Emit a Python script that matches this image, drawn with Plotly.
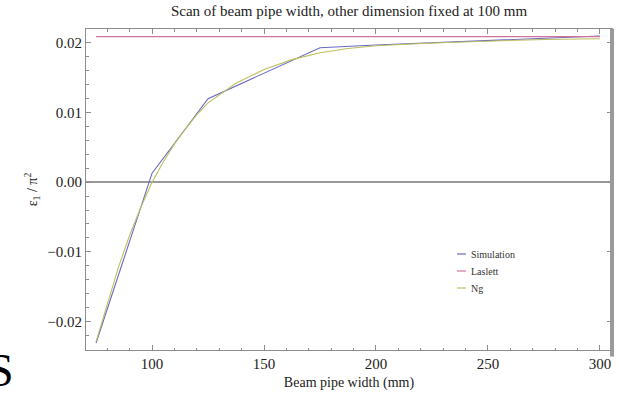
import plotly.graph_objects as go

# Beam pipe width scan (mm) and first-order coefficient epsilon_1 / pi^2
sim_width = [75, 100, 125, 150, 175, 200, 250, 300]
sim_eps = [-0.0231, 0.0013, 0.0120, 0.0157, 0.0193, 0.0197, 0.0203, 0.0210]

laslett_width = [75, 300]
laslett_eps = [0.0209, 0.0209]

ng_width = [75, 80, 85, 90, 95, 100, 105, 110, 115, 120, 125, 137.5, 150,
            162.5, 175, 187.5, 200, 225, 250, 275, 300]
ng_eps = [-0.0229, -0.0174, -0.0122, -0.0076, -0.0036, 0.0000, 0.0029,
          0.0055, 0.0077, 0.0097, 0.0114, 0.0142, 0.0162, 0.0176, 0.0186,
          0.0192, 0.0196, 0.0200, 0.0203, 0.0205, 0.0206]

series_names = ["Simulation", "Laslett", "Ng"]
series_colors = ["rgb(105,105,195)", "rgb(205,115,155)", "rgb(190,190,95)"]

x_ticks = [100, 150, 200, 250, 300]
y_ticks = [-0.02, -0.01, 0.0, 0.01, 0.02]
y_tick_text = ["\u22120.02", "\u22120.01", "0.00", "0.01", "0.02"]

SERIF = "Liberation Serif, Times New Roman, serif"
W, H = 619, 394
L, R, T, B = 86, 7, 29, 44
plot_w, plot_h = W - L - R, H - T - B

fig = go.Figure()
data = [(sim_width, sim_eps), (laslett_width, laslett_eps), (ng_width, ng_eps)]
for (xs, ys), name, color in zip(data, series_names, series_colors):
    fig.add_trace(go.Scatter(x=xs, y=ys, mode="lines", name=name,
                             line=dict(color=color, width=1.1),
                             showlegend=False))

# Small framed-style legend: short line sample + label
leg_x0, leg_y0, leg_dy = 457, 254, 17
for i, (name, color) in enumerate(zip(series_names, series_colors)):
    py = leg_y0 + i * leg_dy
    yp = (H - B - py) / plot_h
    fig.add_shape(type="line", xref="paper", yref="paper",
                  x0=(leg_x0 - L) / plot_w, x1=(leg_x0 + 9 - L) / plot_w,
                  y0=yp, y1=yp, line=dict(color=color, width=1.2))
    fig.add_annotation(xref="paper", yref="paper",
                       x=(leg_x0 + 12 - L) / plot_w, y=yp,
                       xanchor="left", yanchor="middle", showarrow=False,
                       text=name, font=dict(family=SERIF, size=10, color="#333"))

# Heavy right frame edge
fig.add_shape(type="line", xref="paper", yref="paper",
              x0=1.0, x1=1.0, y0=-0.02, y1=1.0,
              line=dict(color="#9a9a9a", width=4))

# Large stray glyph in the lower-left corner
fig.add_annotation(xref="paper", yref="paper",
                   x=(1 - L) / plot_w, y=(H - B - 370) / plot_h,
                   xanchor="center", yanchor="middle", showarrow=False,
                   text="S", font=dict(family=SERIF, size=46, color="black"))

axis_common = dict(
    showgrid=False, showline=True, linecolor="#8c8c8c", linewidth=1,
    ticks="inside", tickcolor="#8c8c8c", ticklen=5, tickwidth=1,
    mirror="ticks",
    tickfont=dict(family=SERIF, size=15, color="#222"),
)

fig.update_layout(
    width=W, height=H,
    margin=dict(l=L, r=R, t=T, b=B, pad=0),
    paper_bgcolor="white", plot_bgcolor="white",
    title=dict(text="Scan of beam pipe width, other dimension fixed at 100 mm",
               x=(L + plot_w / 2) / W, xanchor="center",
               y=1 - 11 / H, yanchor="middle",
               font=dict(family=SERIF, size=15, color="#222")),
    xaxis=dict(
        range=[70.5, 305.4], tickvals=x_ticks,
        minor=dict(dtick=10, tick0=0, ticks="inside", ticklen=2.5,
                   tickcolor="#8c8c8c"),
        title=dict(text="Beam pipe width (mm)", standoff=6,
                   font=dict(family=SERIF, size=14, color="#222")),
        zeroline=False,
        **axis_common,
    ),
    yaxis=dict(
        range=[-0.0241, 0.0220], tickvals=y_ticks, ticktext=y_tick_text,
        minor=dict(dtick=0.002, tick0=0, ticks="inside", ticklen=2.5,
                   tickcolor="#8c8c8c"),
        title=dict(text="\u03b5<sub>1</sub> / \u03c0<sup>2</sup>", standoff=6,
                   font=dict(family=SERIF, size=14, color="#222")),
        zeroline=True, zerolinecolor="#999999", zerolinewidth=2,
        **axis_common,
    ),
)

fig.write_html("out.html")
